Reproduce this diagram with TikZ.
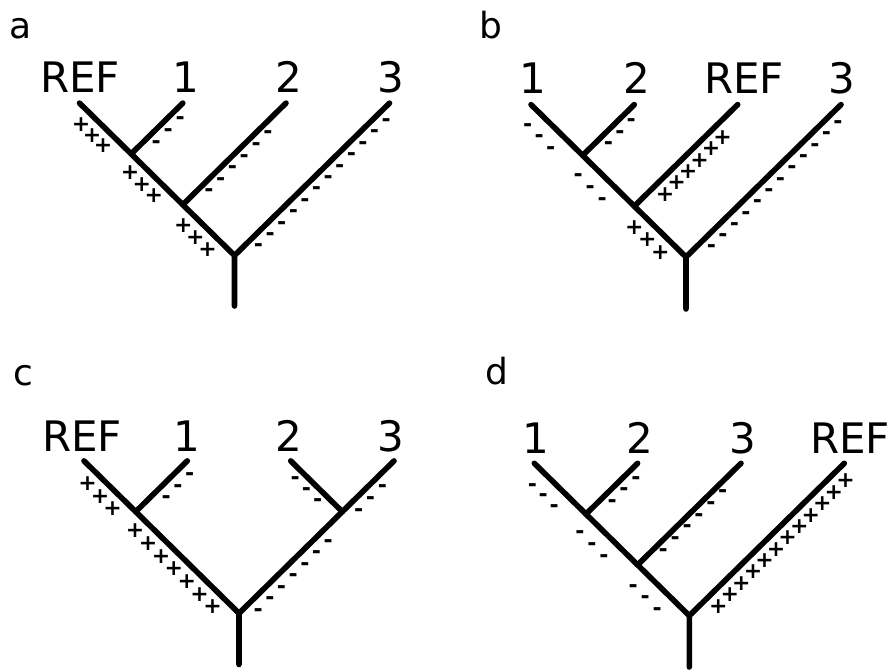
\documentclass[tikz,border=0pt]{standalone}
\usepackage{fontspec}
\setmainfont{DejaVu Sans}

% A row of signs beside a branch: #1 upper end, #2 lower end, #3 count,
% #4 style, #5 sign, #6 offset from the branch, #7 first position and
% #8 spacing (both measured horizontally from the upper end), #9 name prefix.
\newcommand\signrow[9]{%
  \pgfpointanchor{#1}{center}\pgfgetlastxy{\sgTx}{\sgTy}%
  \pgfpointanchor{#2}{center}\pgfgetlastxy{\sgBx}{\sgBy}%
  \pgfmathsetmacro\sgL{veclen(\sgBx-\sgTx,\sgBy-\sgTy)}%
  \pgfmathsetmacro\sgux{(\sgBx-\sgTx)/\sgL}%
  \pgfmathsetmacro\sguy{(\sgBy-\sgTy)/\sgL}%
  \pgfmathsetmacro\sgs{\sgux<0 ? 1 : -1}%
  \foreach \k in {1,...,#3}{%
    \pgfmathsetmacro\sga{(#7+(\k-1)*#8)/abs(\sgux)}%
    \pgfmathsetmacro\sgpx{\sgTx+\sga*\sgux-\sgs*\sguy*#6}%
    \pgfmathsetmacro\sgpy{\sgTy+\sga*\sguy+\sgs*\sgux*#6}%
    \node[#4] (#9-\k) at (\sgpx pt,\sgpy pt) {\makebox[0pt]{#5}};
  }%
}
\newcommand\plusrow[7]{\signrow{#1}{#2}{#3}{plussign}{+}{#4}{#5}{#6}{#7}}
\newcommand\minusrow[7]{\signrow{#1}{#2}{#3}{minussign}{-}{#4}{#5}{#6}{#7}}

\begin{document}
\begin{tikzpicture}[x=1pt,y=-1pt,
  branch/.style={line width=5.6pt, line cap=round},
  leaflabel/.style={font=\fontsize{42}{42}\selectfont, anchor=base, inner sep=0pt},
  panellabel/.style={font=\fontsize{36}{36}\selectfont, anchor=base, inner sep=0pt},
  plussign/.style={font=\fontsize{22}{22}\selectfont\bfseries, inner sep=0pt},
  minussign/.style={font=\fontsize{22}{22}\selectfont\bfseries, inner sep=0pt, yshift=-2.2pt}]

\useasboundingbox (0,0) rectangle (892,671);

% ---------- tree a: ((REF,1),2),3 ----------
\coordinate (a-ref) at (79.5,103.1);
\coordinate (a-l1) at (182.8,103.1);
\coordinate (a-l2) at (286.0,103.1);
\coordinate (a-l3) at (389.5,103.1);
\coordinate (a-j1) at (131.2,153.9);
\coordinate (a-j2) at (182.8,204.7);
\coordinate (a-root) at (234.5,255.5);
\coordinate (a-stem) at (234.5,306);
\draw[branch] (a-ref) -- (a-j1) -- (a-j2) -- (a-root) -- (a-stem);
\draw[branch] (a-l1) -- (a-j1);
\draw[branch] (a-l2) -- (a-j2);
\draw[branch] (a-l3) -- (a-root);
\node[panellabel] (a-tag) at (21,38.3) {a};
\node[leaflabel] (a-ref-t) at (80,92.7) {REF};
\node[leaflabel] (a-l1-t) at (186,92.7) {1};
\node[leaflabel] (a-l2-t) at (289,92.7) {2};
\node[leaflabel] (a-l3-t) at (391,92.7) {3};
\plusrow{a-ref}{a-j1}{3}{14}{11.5}{10.9}{a-s1}
\minusrow{a-l1}{a-j1}{3}{9.1}{9.1}{12}{a-s2}
\plusrow{a-j1}{a-j2}{3}{14}{8.7}{11.9}{a-s3}
\minusrow{a-l2}{a-j2}{6}{8.4}{24}{11.8}{a-s4}
\plusrow{a-j2}{a-root}{3}{14.4}{10.6}{12.1}{a-s5}
\minusrow{a-l3}{a-root}{12}{9.9}{10.3}{11.6}{a-s6}

% ---------- tree b: ((1,2),REF),3 ----------
\coordinate (b-l1) at (531,104.6);
\coordinate (b-l2) at (634.3,104.6);
\coordinate (b-ref) at (737.7,104.6);
\coordinate (b-l3) at (841,104.6);
\coordinate (b-j1) at (582.7,155.4);
\coordinate (b-j2) at (634.3,206.2);
\coordinate (b-root) at (686,257);
\coordinate (b-stem) at (686,309);
\draw[branch] (b-l1) -- (b-j1) -- (b-j2) -- (b-root) -- (b-stem);
\draw[branch] (b-l2) -- (b-j1);
\draw[branch] (b-ref) -- (b-j2);
\draw[branch] (b-l3) -- (b-root);
\node[panellabel] (b-tag) at (491,38.3) {b};
\node[leaflabel] (b-l1-t) at (532.7,93.3) {1};
\node[leaflabel] (b-l2-t) at (637,93.3) {2};
\node[leaflabel] (b-ref-t) at (744,93.3) {REF};
\node[leaflabel] (b-l3-t) at (842,93.3) {3};
\minusrow{b-l1}{b-j1}{3}{17}{8.7}{11.5}{b-s1}
\minusrow{b-l2}{b-j1}{3}{9.3}{9.6}{11.4}{b-s2}
\minusrow{b-j1}{b-j2}{3}{17.5}{7.7}{12}{b-s3}
\plusrow{b-ref}{b-j2}{6}{13}{24.2}{11.5}{b-s4}
\plusrow{b-j2}{b-root}{3}{15}{10.6}{13}{b-s5}
\minusrow{b-l3}{b-root}{12}{10.5}{10.5}{11.5}{b-s6}

% ---------- tree c: (REF,1),(2,3) ----------
\coordinate (c-ref) at (84,460.9);
\coordinate (c-l1) at (187.3,460.9);
\coordinate (c-l2) at (290.7,460.9);
\coordinate (c-l3) at (394,460.9);
\coordinate (c-j1) at (135.7,511.7);
\coordinate (c-j2) at (342.3,511.7);
\coordinate (c-root) at (239,613.3);
\coordinate (c-stem) at (239,664.5);
\draw[branch] (c-ref) -- (c-j1) -- (c-root) -- (c-stem);
\draw[branch] (c-l1) -- (c-j1);
\draw[branch] (c-l3) -- (c-j2) -- (c-root);
\draw[branch] (c-l2) -- (c-j2);
\node[panellabel] (c-tag) at (23,385) {c};
\node[leaflabel] (c-ref-t) at (82,451.7) {REF};
\node[leaflabel] (c-l1-t) at (186.7,451.7) {1};
\node[leaflabel] (c-l2-t) at (289,451.7) {2};
\node[leaflabel] (c-l3-t) at (391,451.7) {3};
\plusrow{c-ref}{c-j1}{3}{14}{13.3}{12.6}{c-s1}
\minusrow{c-l1}{c-j1}{3}{11.4}{5.6}{11.7}{c-s2}
\plusrow{c-j1}{c-root}{7}{14}{9.3}{12.9}{c-s3}
\minusrow{c-l2}{c-j2}{3}{9}{10.7}{11.35}{c-s4}
\minusrow{c-l3}{c-j2}{3}{10.3}{18.9}{11.8}{c-s5}
\minusrow{c-j2}{c-root}{7}{11.2}{22}{11.65}{c-s6}

% ---------- tree d: ((1,2),3),REF ----------
\coordinate (d-l1) at (534.3,463.3);
\coordinate (d-l2) at (637.6,463.3);
\coordinate (d-l3) at (741,463.3);
\coordinate (d-ref) at (844.3,463.3);
\coordinate (d-j1) at (586,514.1);
\coordinate (d-j2) at (637.6,564.9);
\coordinate (d-root) at (689.3,615.7);
\coordinate (d-stem) at (689.3,667);
\draw[branch] (d-l1) -- (d-j1) -- (d-j2) -- (d-root) -- (d-stem);
\draw[branch] (d-l2) -- (d-j1);
\draw[branch] (d-l3) -- (d-j2);
\draw[branch] (d-ref) -- (d-root);
\node[panellabel] (d-tag) at (497,384.3) {d};
\node[leaflabel] (d-l1-t) at (536,453.3) {1};
\node[leaflabel] (d-l2-t) at (639.5,453.3) {2};
\node[leaflabel] (d-l3-t) at (743,453.3) {3};
\node[leaflabel] (d-ref-t) at (850,453.3) {REF};
\minusrow{d-l1}{d-j1}{3}{16.8}{9.9}{10.85}{d-s1}
\minusrow{d-l2}{d-j1}{3}{9.2}{8.2}{11.9}{d-s2}
\minusrow{d-j1}{d-j2}{3}{17.4}{6.1}{12}{d-s3}
\minusrow{d-l3}{d-j2}{6}{7.4}{23.4}{11.9}{d-s4}
\minusrow{d-j2}{d-root}{3}{18.1}{8.2}{12}{d-s5}
\plusrow{d-ref}{d-root}{12}{13.5}{8.3}{11.56}{d-s6}

\end{tikzpicture}
\end{document}
